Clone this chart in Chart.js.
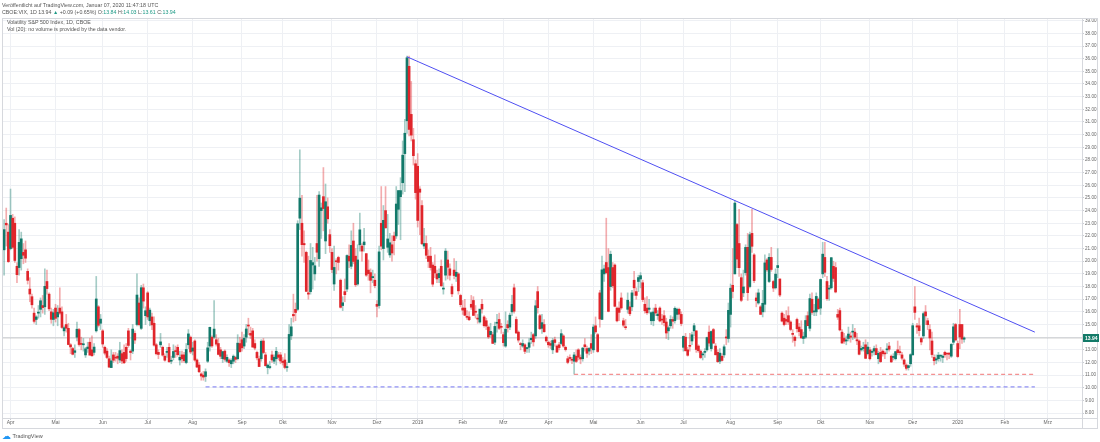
<!DOCTYPE html>
<html>
<head>
<meta charset="utf-8">
<script src="https://cdn.jsdelivr.net/npm/chart.js@4.4.1/dist/chart.umd.min.js"></script>
<style>
  html, body { margin: 0; padding: 0; background: #fff; }
  #wrap { position: relative; width: 1100px; height: 442px; overflow: hidden; font-family: "Liberation Sans", Arial, sans-serif; color: #555; }
  #c { position: absolute; left: 0; top: 0; }
  .t { position: absolute; white-space: nowrap; font-size: 5.3px; line-height: 6px; }
  .up { color: #1e9a86; }
  #logo { position: absolute; left: 2px; top: 431px; font-size: 5.5px; color: #555; white-space: nowrap; }
  #logo b { color: #2196f3; font-size: 9px; font-weight: normal; vertical-align: -1px; }
</style>
</head>
<body>
<div id="wrap">
  <canvas id="c" width="1100" height="442"></canvas>
  <div class="t" style="left:2px;top:2px">Veröffentlicht auf TradingView.com, Januar 07, 2020 11:47:18 UTC</div>
  <div class="t" style="left:2px;top:9px">CBOE:VIX, 1D 13.94 <span class="up">▲</span> +0.09 (+0.65%) O:<span class="up">13.84</span> H:<span class="up">14.03</span> L:<span class="up">13.61</span> C:<span class="up">13.94</span></div>
  <div class="t" style="left:7px;top:19px">Volatility S&amp;P 500 Index, 1D, CBOE</div>
  <div class="t" style="left:7px;top:26px">Vol (20): no volume is provided by the data vendor.</div>
  <div id="logo"><b>☁</b> TradingView</div>
</div>
<script>
// daily VIX candles, 27 Mar 2018 .. 07 Jan 2020 (one line per month)
var opens = [
  20.9, 23.0, 22.3,
  21.0, 23.4, 23.0, 19.6, 19.5, 20.2, 20.7, 20.9, 19.2, 17.8, 17.2, 15.9, 15.4, 15.9, 16.2, 16.5, 16.4, 18.4, 17.4, 16.0, 15.4,
  16.3, 15.6, 16.3, 16.0, 14.5, 15.0, 14.7, 13.4, 13.1, 12.8, 14.0, 14.6, 13.5, 13.4, 12.6, 13.1, 13.6, 13.0, 12.8, 14.5, 16.4, 15.1,
  14.5, 13.2, 12.9, 12.3, 11.6, 12.6, 12.4, 12.5, 12.2, 12.7, 12.8, 13.2, 14.5, 12.9, 12.9, 14.3, 15.0, 16.7, 14.7, 17.9, 15.7,
  17.5, 15.3, 15.6, 15.1, 13.4, 12.8, 13.4, 13.2, 12.5, 12.8, 13.2, 12.1, 12.4, 12.9, 13.2, 12.2, 12.6, 12.6, 12.0, 13.4, 14.0,
  12.9, 13.7, 12.2, 11.8, 11.1, 11.0, 10.9, 12.1, 13.3, 14.0, 14.0, 13.8, 13.5, 13.0, 12.3, 12.9, 12.1, 12.2, 11.9, 12.1, 12.4, 12.3, 13.5,
  13.8, 13.3, 14.0, 14.9, 14.3, 14.5, 13.5, 12.8, 12.3, 12.3, 13.7, 12.6, 11.6, 11.6, 12.6, 12.1, 12.3, 12.6, 12.6,
  12.1, 12.2, 11.6, 12.0, 14.1, 15.8, 16.2, 16.2, 23.4, 23.0, 21.4, 20.7, 17.5, 17.6, 19.7, 19.0, 21.4, 20.2, 24.0, 25.1, 21.6, 24.3, 22.1,
  20.7, 18.2, 20.0, 20.3, 18.5, 16.5, 17.6, 17.8, 20.4, 19.6, 21.6, 20.4, 18.2, 21.3, 21.2, 21.3, 20.6, 19.3, 19.1, 18.7, 18.5,
  16.6, 16.5, 23.0, 21.0, 24.0, 21.1, 20.5, 21.3, 22.0, 22.0, 24.1, 25.1, 26.2, 28.5, 31.1, 35.4, 31.6, 29.6, 27.7,
  27.5, 25.7, 24.4, 21.2, 21.4, 20.4, 20.4, 19.7, 19.6, 19.0, 18.7, 19.6, 17.8, 18.9, 20.1, 19.4, 18.0, 19.3, 18.8, 19.0, 17.3,
  16.3, 16.3, 15.6, 15.6, 16.6, 16.9, 16.0, 15.5, 15.2, 16.6, 15.6, 15.3, 14.8, 14.2, 14.2, 13.6, 15.1, 15.4, 14.8,
  14.2, 13.3, 15.0, 14.8, 16.0, 17.9, 15.4, 14.4, 13.5, 13.3, 13.4, 13.1, 13.2, 13.8, 14.2, 14.1, 17.6, 15.7, 14.7, 15.0, 14.0,
  13.6, 13.5, 13.0, 13.8, 13.3, 13.4, 13.5, 14.1, 13.2, 12.3, 12.4, 12.2, 12.1, 12.5, 13.0, 12.4, 12.3, 13.4, 13.1, 12.9, 13.5,
  13.0, 14.9, 14.2, 17.5, 15.4, 19.0, 19.9, 19.5, 18.0, 19.5, 19.7, 16.3, 16.3, 17.1, 15.3, 14.8, 16.2, 16.4, 16.4, 18.5, 17.6, 18.4,
  18.6, 18.3, 16.6, 16.3, 16.2, 15.3, 15.3, 16.3, 15.7, 16.3, 15.4, 15.7, 15.2, 14.5, 14.9, 15.4, 15.3, 15.8, 16.2, 15.8,
  13.2, 14.0, 13.0, 13.3, 13.7, 14.5, 14.5, 13.3, 12.9, 12.6, 12.8, 13.0, 14.4, 13.1, 14.6, 13.3, 12.8, 12.1, 12.5, 12.6, 14.0, 13.9,
  15.8, 18.1, 19.0, 22.9, 21.4, 18.7, 17.5, 19.1, 21.1, 18.0, 22.2, 20.5, 17.1, 16.7, 16.4, 16.0, 16.6, 20.1, 18.4, 20.3, 18.4, 17.9,
  19.5, 18.6, 15.9, 15.5, 15.4, 15.7, 15.2, 14.3, 14.0, 15.4, 14.8, 14.6, 13.9, 14.0, 15.7, 14.7, 17.0, 16.0, 16.0, 17.0,
  16.3, 19.0, 20.3, 18.4, 17.8, 17.9, 19.6, 19.5, 15.8, 16.1, 14.4, 13.9, 13.7, 13.9, 14.1, 14.4, 14.4, 13.8, 13.7, 13.0, 13.1, 13.4, 12.7,
  13.0, 12.8, 12.9, 13.1, 12.3, 12.8, 12.9, 12.7, 13.0, 13.3, 12.5, 12.4, 12.3, 13.0, 12.8, 12.6, 12.2, 11.8, 11.6, 11.9,
  12.6, 16.4, 14.9, 14.9, 13.9, 14.1, 16.0, 15.3, 14.6, 13.7, 12.4, 12.2, 12.3, 12.5, 12.4, 12.8, 12.7, 12.7, 12.5, 13.6, 15.0,
  13.5, 15.0, 15.0, 13.84
];
var highs = [
  23.3, 24.2, 22.9,
  25.7, 23.7, 23.5, 19.9, 22.5, 22.3, 21.4, 21.6, 19.4, 18.7, 17.4, 16.3, 15.7, 16.5, 17.1, 17.3, 19.4, 19.3, 17.5, 16.3, 16.2,
  16.6, 16.5, 17.9, 16.4, 14.9, 15.8, 15.1, 13.5, 13.2, 13.4, 15.2, 14.7, 14.0, 13.9, 13.2, 13.6, 13.9, 14.1, 13.5, 18.8, 16.5, 15.8,
  14.6, 13.3, 13.1, 12.5, 13.0, 12.8, 12.8, 12.7, 13.6, 13.0, 13.4, 13.5, 14.7, 13.0, 15.0, 14.5, 19.0, 17.1, 18.1, 18.2, 16.4,
  17.6, 16.3, 15.9, 15.6, 13.5, 13.0, 14.3, 13.3, 12.7, 13.2, 13.5, 12.5, 13.4, 13.3, 13.4, 12.9, 12.9, 12.8, 13.5, 14.6, 14.1,
  13.6, 13.8, 12.3, 12.0, 11.2, 11.3, 11.5, 13.6, 14.8, 14.1, 16.9, 14.2, 13.9, 13.2, 12.9, 13.0, 12.6, 12.3, 12.3, 12.6, 12.5, 14.2, 14.0,
  14.4, 14.2, 15.0, 15.5, 14.8, 14.7, 13.8, 12.9, 12.5, 13.8, 13.9, 12.8, 11.9, 12.1, 12.9, 12.6, 13.2, 12.8, 12.8,
  12.4, 12.7, 12.0, 15.0, 15.5, 17.4, 16.7, 23.2, 28.8, 25.2, 22.4, 20.8, 20.4, 21.4, 21.1, 20.3, 25.2, 25.5, 24.6, 27.4, 26.1, 25.0, 22.5,
  21.0, 21.2, 20.2, 20.4, 18.6, 17.2, 18.6, 20.5, 21.3, 22.4, 23.0, 21.0, 21.3, 23.8, 21.4, 22.6, 20.6, 20.1, 19.4, 19.3, 19.0,
  16.9, 21.2, 25.9, 24.4, 25.9, 23.7, 22.2, 22.0, 22.3, 25.9, 25.6, 26.6, 29.5, 31.2, 36.2, 36.2, 34.2, 30.5, 28.0,
  28.5, 25.9, 24.8, 22.6, 22.0, 20.9, 21.1, 19.9, 20.5, 19.3, 19.4, 20.1, 18.3, 21.0, 20.8, 19.8, 18.2, 20.2, 20.0, 19.1, 17.4,
  16.9, 17.0, 16.1, 16.0, 17.3, 17.2, 16.5, 15.8, 16.2, 17.0, 15.7, 15.5, 14.9, 15.1, 14.4, 15.2, 15.8, 15.9, 15.1,
  14.4, 16.0, 15.3, 15.9, 17.3, 18.2, 15.6, 14.5, 13.6, 13.8, 13.5, 13.2, 13.9, 14.4, 14.3, 16.9, 18.0, 15.8, 15.8, 15.4, 14.1,
  13.7, 13.7, 13.9, 14.0, 13.4, 13.6, 14.6, 14.2, 13.3, 12.5, 12.6, 12.4, 12.8, 13.0, 13.1, 12.6, 13.2, 13.9, 13.3, 13.2, 14.2,
  15.0, 15.6, 14.3, 17.7, 20.4, 19.7, 23.4, 21.0, 20.8, 19.9, 19.8, 16.4, 16.8, 17.5, 15.5, 15.4, 17.5, 16.8, 17.7, 19.2, 17.9, 18.9,
  19.1, 18.5, 17.1, 17.2, 17.0, 16.0, 16.3, 16.6, 16.1, 16.4, 15.8, 16.1, 15.5, 14.9, 15.7, 15.6, 16.4, 16.3, 16.3, 16.0,
  14.1, 14.3, 13.2, 14.3, 14.4, 15.1, 14.5, 13.4, 13.0, 12.8, 13.1, 14.0, 14.9, 14.5, 14.7, 13.5, 13.0, 13.1, 12.7, 13.4, 14.6, 16.7,
  18.2, 21.0, 24.8, 23.0, 24.1, 19.0, 19.3, 21.3, 22.2, 22.3, 24.1, 20.6, 17.5, 17.8, 16.5, 17.7, 20.5, 20.2, 20.6, 21.1, 18.5, 19.4,
  21.0, 18.6, 16.0, 15.8, 16.1, 16.4, 15.3, 14.6, 14.1, 15.5, 15.1, 15.3, 14.4, 15.7, 16.0, 17.4, 17.5, 16.6, 17.5, 17.1,
  18.6, 21.5, 21.5, 18.8, 18.1, 20.3, 20.0, 19.9, 16.2, 16.3, 14.6, 14.3, 14.1, 14.8, 14.4, 15.0, 14.7, 14.3, 13.8, 13.3, 13.6, 13.8, 13.6,
  13.2, 13.0, 13.3, 13.4, 12.9, 13.2, 13.0, 12.9, 13.5, 13.6, 12.6, 12.7, 12.9, 13.7, 13.3, 12.8, 12.3, 11.9, 11.8, 12.7,
  15.1, 18.0, 15.1, 15.5, 14.0, 16.0, 16.5, 15.5, 15.0, 14.4, 12.6, 12.6, 12.8, 12.6, 12.6, 12.9, 12.7, 12.8, 13.5, 15.1, 15.1,
  13.7, 16.2, 15.0, 14.03
];
var lows = [
  18.9, 21.2, 19.9,
  20.9, 21.0, 19.9, 18.3, 18.9, 19.3, 19.8, 19.9, 18.2, 16.8, 16.3, 15.1, 15.0, 15.5, 15.6, 15.9, 15.8, 17.4, 16.1, 15.1, 14.9,
  15.2, 14.9, 15.8, 14.7, 14.1, 14.4, 13.4, 12.7, 12.6, 12.4, 13.7, 13.3, 13.0, 12.9, 12.4, 12.8, 12.6, 12.5, 12.6, 14.4, 14.8, 14.6,
  13.2, 12.6, 12.3, 11.6, 11.6, 12.0, 12.1, 11.9, 12.0, 11.9, 11.9, 12.1, 13.2, 12.2, 12.7, 13.5, 14.9, 14.9, 14.6, 16.3, 15.0,
  15.4, 14.9, 14.6, 13.3, 12.6, 12.3, 13.2, 12.5, 12.1, 12.4, 12.0, 11.9, 12.2, 12.4, 12.5, 11.8, 12.0, 12.0, 11.9, 13.1, 12.7,
  12.6, 12.1, 11.6, 11.2, 10.6, 10.6, 10.5, 12.0, 12.9, 13.2, 13.9, 13.3, 12.6, 12.3, 12.0, 12.1, 12.0, 11.7, 11.6, 11.9, 12.0, 12.2, 12.8,
  12.9, 13.1, 13.6, 14.2, 13.9, 13.2, 13.0, 12.2, 11.7, 12.1, 12.7, 11.7, 11.1, 11.5, 12.0, 11.9, 11.8, 12.2, 11.9,
  11.8, 11.5, 11.3, 12.0, 13.8, 15.2, 15.3, 16.1, 22.5, 20.4, 19.9, 17.6, 17.0, 17.4, 17.8, 18.5, 20.0, 19.6, 21.8, 22.4, 20.6, 23.0, 20.7,
  19.1, 17.7, 19.0, 19.3, 16.3, 16.1, 16.8, 17.6, 19.5, 19.4, 19.8, 18.0, 18.1, 20.8, 20.0, 20.8, 18.8, 18.5, 17.5, 18.3, 17.9,
  15.6, 16.3, 20.9, 20.1, 22.6, 20.7, 20.3, 20.0, 20.5, 21.8, 22.9, 21.7, 25.3, 25.5, 30.1, 29.9, 29.5, 27.6, 24.9,
  22.7, 22.1, 21.3, 21.0, 20.2, 19.5, 19.3, 18.0, 18.7, 18.3, 18.3, 18.0, 17.4, 18.5, 18.6, 18.5, 17.2, 18.6, 18.4, 17.4, 16.4,
  15.8, 15.7, 15.4, 15.3, 16.2, 15.7, 15.5, 15.1, 15.1, 15.9, 14.8, 14.6, 13.9, 14.0, 13.5, 13.4, 14.4, 14.6, 14.3,
  13.3, 13.2, 14.4, 14.6, 15.7, 15.9, 14.3, 13.6, 13.0, 13.2, 12.7, 12.8, 12.8, 13.5, 13.3, 13.9, 15.9, 14.6, 14.3, 14.4, 13.6,
  13.2, 13.1, 12.7, 13.3, 12.8, 13.0, 13.4, 13.2, 12.9, 11.9, 12.1, 11.9, 11.08, 12.0, 12.2, 11.9, 12.1, 12.9, 12.4, 12.6, 12.7,
  12.8, 14.3, 12.8, 14.8, 15.4, 18.4, 19.0, 16.0, 17.7, 17.9, 16.4, 15.2, 15.3, 16.2, 14.8, 14.6, 15.9, 15.7, 16.1, 17.3, 17.0, 17.6,
  17.9, 16.8, 15.9, 15.8, 15.9, 15.0, 14.9, 15.7, 15.4, 15.2, 15.0, 14.9, 13.9, 13.8, 14.7, 14.7, 15.1, 15.4, 15.4, 14.9,
  12.9, 12.9, 12.5, 12.9, 13.4, 14.1, 12.8, 12.8, 12.3, 12.2, 12.4, 12.9, 13.3, 12.9, 13.5, 12.6, 12.0, 11.9, 12.1, 12.4, 13.4, 13.6,
  14.8, 17.1, 19.0, 19.5, 18.8, 16.8, 17.2, 18.9, 16.9, 17.9, 20.7, 18.3, 16.4, 16.6, 15.8, 15.6, 16.0, 19.2, 18.3, 19.2, 17.6, 17.8,
  18.7, 17.2, 15.2, 14.9, 15.0, 15.0, 14.5, 13.6, 13.3, 14.4, 14.1, 13.9, 13.5, 13.9, 14.9, 14.5, 15.8, 15.7, 15.7, 16.2,
  15.8, 18.7, 18.8, 16.9, 16.9, 17.8, 18.4, 17.5, 15.4, 14.5, 13.5, 13.5, 13.4, 13.7, 13.6, 13.8, 13.9, 13.4, 12.6, 12.9, 12.9, 12.3, 12.6,
  12.2, 12.5, 12.6, 12.6, 11.9, 12.0, 12.5, 12.3, 12.7, 12.9, 12.0, 12.2, 12.2, 12.6, 12.6, 12.2, 11.7, 11.4, 11.4, 11.7,
  12.6, 15.4, 14.3, 14.1, 13.4, 13.9, 15.0, 14.6, 13.0, 12.4, 11.8, 11.9, 12.1, 12.1, 12.0, 12.4, 12.2, 12.3, 12.4, 13.4, 13.7,
  12.4, 13.1, 13.5, 13.61
];
var closes = [
  22.50, 22.87, 19.97,
  23.62, 21.10, 20.06, 18.94, 21.49, 21.77, 20.47, 20.24, 18.49, 17.41, 16.56, 15.25, 15.60, 15.96, 16.88, 16.34, 18.02, 17.84, 16.24, 15.41, 15.93,
  15.49, 15.97, 15.90, 14.77, 14.75, 14.71, 13.42, 13.23, 12.65, 12.93, 14.63, 13.42, 13.43, 13.42, 13.08, 13.22, 12.58, 12.53, 13.22, 17.02, 14.94, 15.43,
  13.46, 12.74, 12.40, 11.64, 12.13, 12.18, 12.35, 12.34, 12.94, 12.12, 11.98, 12.31, 13.35, 12.79, 14.64, 13.77, 17.33, 14.99, 17.91, 16.85, 16.09,
  15.60, 16.14, 14.97, 13.37, 12.69, 12.64, 13.63, 12.58, 12.18, 12.83, 12.06, 12.10, 12.87, 12.86, 12.62, 12.41, 12.29, 12.14, 13.03, 14.26, 12.83,
  13.15, 12.19, 11.64, 11.27, 10.93, 10.85, 11.27, 13.16, 14.78, 13.31, 14.64, 13.45, 12.64, 12.49, 12.86, 12.25, 12.41, 11.99, 12.16, 12.50, 12.25, 13.53, 12.86,
  13.16, 13.91, 14.65, 14.88, 14.16, 13.22, 13.14, 12.37, 11.68, 13.68, 12.79, 11.75, 11.80, 11.68, 12.20, 12.42, 12.89, 12.41, 12.12,
  12.00, 11.61, 11.61, 14.22, 14.82, 15.69, 15.95, 22.96, 24.98, 21.31, 21.30, 17.62, 17.40, 20.06, 19.89, 19.64, 20.71, 25.23, 24.22, 24.16, 24.70, 23.35, 21.23,
  19.34, 19.51, 19.96, 19.91, 16.36, 16.72, 17.36, 20.45, 20.02, 21.25, 19.98, 18.14, 20.10, 22.48, 20.80, 21.52, 18.90, 19.02, 18.49, 18.79, 18.07,
  16.44, 20.74, 21.19, 23.23, 22.64, 21.76, 21.46, 20.65, 21.63, 24.52, 25.58, 25.58, 28.38, 30.11, 36.07, 30.41, 29.96, 28.34, 25.42,
  23.22, 25.45, 21.38, 21.40, 20.47, 19.98, 19.50, 18.19, 19.07, 18.60, 19.04, 18.06, 17.80, 20.80, 19.52, 18.89, 17.42, 18.87, 19.13, 17.66, 16.57,
  16.14, 15.73, 15.57, 15.38, 16.37, 15.72, 15.97, 15.43, 16.22, 16.22, 14.91, 14.88, 14.02, 14.46, 13.51, 14.85, 15.17, 14.70, 14.78,
  13.57, 14.63, 14.74, 15.74, 16.59, 16.05, 14.33, 13.77, 13.41, 13.50, 12.88, 13.10, 13.56, 13.91, 13.63, 16.48, 16.33, 14.68, 15.15, 14.43, 13.71,
  13.40, 13.36, 13.74, 13.58, 12.82, 13.18, 14.28, 13.30, 13.02, 12.01, 12.32, 12.18, 12.60, 12.09, 12.42, 12.28, 13.14, 13.25, 12.73, 13.11, 13.12,
  14.80, 14.42, 12.87, 15.44, 19.32, 19.40, 19.10, 16.04, 20.55, 18.06, 16.44, 15.29, 15.96, 16.31, 14.95, 14.75, 16.92, 15.85, 17.50, 17.90, 17.30, 18.71,
  18.86, 16.97, 16.09, 15.93, 16.30, 15.94, 15.99, 15.91, 15.82, 15.28, 15.35, 15.15, 14.33, 14.75, 15.40, 15.26, 16.28, 16.21, 15.82, 15.08,
  14.06, 12.93, 12.57, 13.28, 14.19, 14.91, 13.03, 12.93, 12.39, 12.68, 12.86, 13.97, 13.53, 14.45, 13.53, 12.61, 12.07, 12.74, 12.16, 13.24, 13.94, 16.12,
  17.87, 17.61, 24.59, 20.17, 19.49, 16.91, 17.97, 21.09, 17.52, 22.10, 21.18, 18.47, 16.88, 17.50, 15.80, 16.68, 19.87, 19.32, 20.31, 19.35, 17.88, 18.98,
  19.66, 17.33, 15.27, 15.00, 15.27, 15.20, 14.61, 14.22, 13.74, 14.67, 14.44, 13.95, 14.05, 15.32, 14.91, 17.05, 15.96, 16.07, 17.22, 16.24,
  18.56, 20.56, 19.12, 17.04, 17.86, 20.28, 18.64, 17.57, 15.58, 14.57, 13.54, 13.68, 13.79, 14.25, 14.00, 14.46, 14.01, 13.71, 12.65, 13.11, 13.20, 12.33, 13.22,
  12.30, 12.83, 13.10, 12.62, 12.73, 12.07, 12.69, 12.68, 13.00, 13.05, 12.05, 12.46, 12.86, 12.78, 12.78, 12.34, 11.87, 11.54, 11.75, 12.62,
  14.91, 15.96, 14.80, 14.52, 13.62, 15.86, 15.68, 14.99, 13.94, 12.63, 12.14, 12.29, 12.58, 12.50, 12.51, 12.61, 12.67, 12.65, 13.43, 14.82, 13.78,
  12.47, 14.02, 13.85, 13.94
];

// exchange holidays inside the range (no candle on these days)
var holidays = ['2018-03-30', '2018-05-28', '2018-07-04', '2018-09-03', '2018-11-22', '2018-12-05', '2018-12-25',
  '2019-01-01', '2019-01-21', '2019-02-18', '2019-04-19', '2019-05-27', '2019-07-04', '2019-09-02', '2019-11-28',
  '2019-12-25', '2020-01-01'];
var monthNames = ['Jan', 'Feb', 'Mrz', 'Apr', 'Mai', 'Jun', 'Jul', 'Aug', 'Sep', 'Okt', 'Nov', 'Dez'];
var yTicks = [8, 9, 10, 11, 12, 13, 14, 15, 16, 17, 18, 19, 20, 21, 22, 23, 24, 25, 26, 27, 28, 29, 30, 31, 32, 33, 34, 35, 36, 37, 38, 39];

// drawings on the chart: trend line from the Dec 2018 top, two support lines
var trendLine = [{ x: 188, y: 36.15 }, { x: 481, y: 14.4 }];
var supportRed = [{ x: 266, y: 11.07 }, { x: 481, y: 11.07 }];
var supportBlue = [{ x: 94, y: 10.07 }, { x: 481, y: 10.07 }];
var lastPrice = 13.94;

// trading days (weekdays minus holidays), continued into the empty future space
var dates = [];
var d = new Date(Date.UTC(2018, 2, 27));
while (dates.length < 505) {
  var s = d.toISOString().slice(0, 10);
  var wd = d.getUTCDay();
  if (wd !== 0 && wd !== 6 && holidays.indexOf(s) < 0) dates.push(s);
  d.setUTCDate(d.getUTCDate() + 1);
}
if (dates[closes.length - 1] !== '2020-01-07') console.log('date mismatch', dates[closes.length - 1]);

var monthTicks = [];
var monthLabel = {};
for (var i = 1; i < dates.length; i++) {
  if (dates[i].slice(5, 7) !== dates[i - 1].slice(5, 7)) {
    var m = +dates[i].slice(5, 7) - 1;
    monthTicks.push(i);
    monthLabel[i] = m === 0 ? dates[i].slice(0, 4) : monthNames[m];
  }
}

var upBody = '#12796a', downBody = '#e0252b';
var upWick = 'rgba(18,121,106,0.38)', downWick = 'rgba(224,37,43,0.38)';

var bodies = [], wicks = [], bodyColors = [], wickColors = [];
for (var k = 0; k < closes.length; k++) {
  var up = closes[k] >= opens[k];
  bodies.push({ x: k, y: [Math.min(opens[k], closes[k]), Math.max(opens[k], closes[k])] });
  wicks.push({ x: k, y: [lows[k], highs[k]] });
  bodyColors.push(up ? upBody : downBody);
  wickColors.push(up ? upWick : downWick);
}

var xMin = -0.98, xMax = 503;

// frame around the pane and the last price tag on the price axis
var paneFrame = {
  id: 'paneFrame',
  afterDraw: function (chart) {
    var c = chart.ctx, a = chart.chartArea;
    c.save();
    c.strokeStyle = '#d6d8dd';
    c.lineWidth = 1;
    c.strokeRect(2.5, a.top + 0.5, 1095, 428 - a.top);
    c.beginPath();
    c.moveTo(a.right + 0.5, a.top); c.lineTo(a.right + 0.5, 428);
    c.moveTo(2, a.bottom + 0.5); c.lineTo(1098, a.bottom + 0.5);
    c.stroke();
    var y = chart.scales.y.getPixelForValue(lastPrice);
    c.fillStyle = '#137a68';
    c.fillRect(a.right + 1, Math.round(y) - 4, 16, 8);
    c.fillStyle = '#fff';
    c.font = 'bold 5px "Liberation Sans", Arial, sans-serif';
    c.textBaseline = 'middle';
    c.textAlign = 'left';
    c.fillText(lastPrice.toFixed(2), a.right + 3, Math.round(y) + 0.5);
    c.restore();
  }
};

var ctx = document.getElementById('c');
new Chart(ctx, {
  type: 'bar',
  data: {
    datasets: [
      { type: 'line', data: trendLine, borderColor: '#4f4ff2', borderWidth: 1, pointRadius: 0 },
      { type: 'line', data: supportRed, borderColor: 'rgba(240,110,110,0.75)', borderWidth: 1.2, borderDash: [4, 3], pointRadius: 0 },
      { type: 'line', data: supportBlue, borderColor: 'rgba(110,110,240,0.75)', borderWidth: 1.2, borderDash: [4, 3], pointRadius: 0 },
      { data: bodies, backgroundColor: bodyColors, barThickness: 2, minBarLength: 1, grouped: false },
      { data: wicks, backgroundColor: wickColors, barThickness: 1, grouped: false },
      { type: 'line', data: [{ x: xMin, y: lastPrice }, { x: xMax, y: lastPrice }], borderColor: 'rgba(140,140,140,0.45)', borderWidth: 1, pointRadius: 0 }
    ]
  },
  options: {
    animation: false,
    responsive: false,
    layout: { padding: { left: 2, top: 18, right: 2, bottom: 14 } },
    plugins: { legend: { display: false }, tooltip: { enabled: false } },
    scales: {
      x: {
        type: 'linear',
        min: xMin,
        max: xMax,
        offset: false,
        grid: { color: '#eef0f4', offset: false, drawTicks: true, tickLength: 2, tickColor: '#c8cbd1' },
        border: { display: false },
        afterBuildTicks: function (scale) {
          scale.ticks = monthTicks.map(function (v) { return { value: v }; });
        },
        afterFit: function (scale) { scale.height = 10; },
        ticks: {
          autoSkip: false,
          maxRotation: 0,
          padding: 0,
          color: '#666',
          font: { family: '"Liberation Sans", Arial, sans-serif', size: 5 },
          callback: function (v) { return monthLabel[v] || ''; }
        }
      },
      y: {
        position: 'right',
        min: 7.617,
        max: 39.213,
        grid: { color: '#eef0f4', drawTicks: true, tickLength: 2, tickColor: '#c8cbd1' },
        border: { display: false },
        afterBuildTicks: function (scale) {
          scale.ticks = yTicks.map(function (v) { return { value: v }; });
        },
        afterFit: function (scale) { scale.width = 16; },
        ticks: {
          padding: 1,
          color: '#666',
          font: { family: '"Liberation Sans", Arial, sans-serif', size: 4.6 },
          callback: function (v) { return v.toFixed(2); }
        }
      }
    }
  },
  plugins: [paneFrame]
});
</script>
</body>
</html>
